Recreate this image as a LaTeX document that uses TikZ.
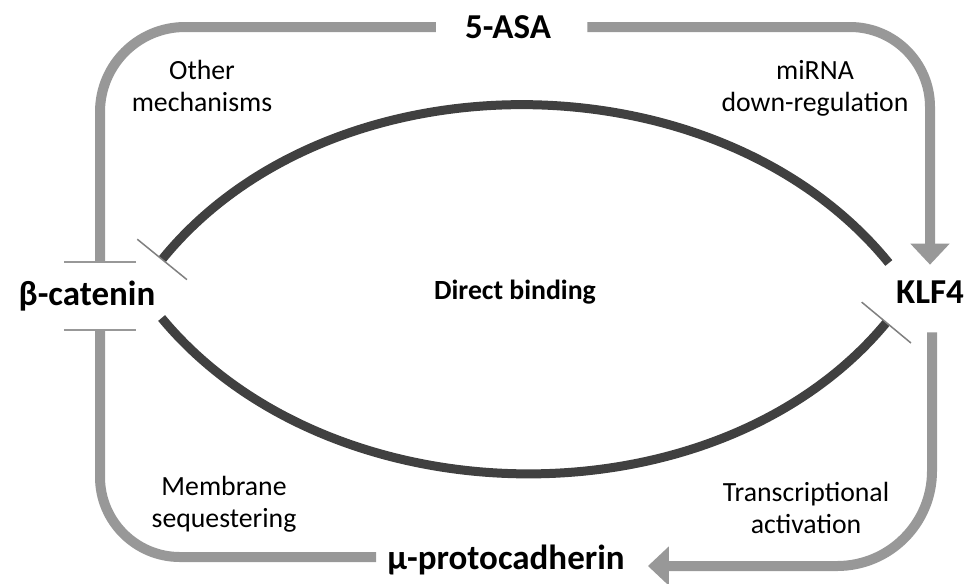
\documentclass[tikz,border=0pt]{standalone}
\usepackage{fontspec}
\setmainfont{Carlito}
\usetikzlibrary{arrows.meta}
\usetikzlibrary{positioning,calc}
\definecolor{routegray}{RGB}{152,152,152}
\definecolor{binddark}{RGB}{64,64,64}
\tikzset{
  player/.style={font=\fontsize{19.9}{24}\selectfont\bfseries, inner sep=0pt},
  note/.style={font=\fontsize{15.8}{18.2}\selectfont, align=center, inner sep=0pt},
  route/.style={draw=routegray, line width=0.2cm},
  bind/.style={draw=binddark, line width=0.18cm},
  blocks/.style={-{Bar[width=1.45cm, line width=0.04cm]}},
  activates/.style={-{Triangle[width=0.76cm, length=0.42cm]}},
  binds/.style={-{Bar[width=1.28cm, line width=0.03cm, color=gray]}},
}

\begin{document}
\begin{tikzpicture}[x=0.02cm, y=-0.02cm]
   \fill[white] (0,0) rectangle (973,583);
   \useasboundingbox (0,0) rectangle (973,583);

   \node[player] (asa) at (508,27) {5-ASA};
   \node[player, minimum height=1.32cm] (bcat) at (87,296) {β-catenin};
   \node[player, minimum height=1.08cm] (klf) at (930,292) {KLF4};
   \node[player] (mu) at (506,560) {μ-protocadherin};

   \node[note, font=\fontsize{15.8}{18.2}\selectfont\bfseries] (direct) at (515,292) {Direct binding};

   \node[note] (other) at (202,86) {Other\\mechanisms};
   \node[note] (mirna) at (815,88) {miRNA\\down-regulation};
   \node[note] (membr) at (224,504) {Membrane\\sequestering};
   \node[note] (trans) at (806,508) {Transcriptional\\activation};

   % grey routes round the outside
   \draw[route, blocks, rounded corners=1.7cm]
      ($(asa.west)+(-29,0)$) -| ($(bcat.north)+(13,0)$);
   \draw[route, activates, rounded corners=1.6cm]
      ($(asa.east)+(36,0)$) -| (klf.north);
   \draw[route, activates, rounded corners=1.9cm]
      ($(klf.south)+(2,13)$) |- ($(mu.east)+(23,6)$);
   \draw[route, blocks, rounded corners=1.6cm]
      ($(mu.west)+(-11,-3)$) -| ($(bcat.south)+(13,0)$);

   % direct binding arcs
   \draw[bind, binds] ($(klf.west)+(-7,-29)$)
      .. controls +(-170,-209) and +(170,-209) .. ($(bcat.east)+(6,-36)$);
   \draw[bind, binds] ($(bcat.east)+(6,22)$)
      .. controls +(170,205) and +(-170,205) .. ($(klf.west)+(-9,30)$);
\end{tikzpicture}
\end{document}
